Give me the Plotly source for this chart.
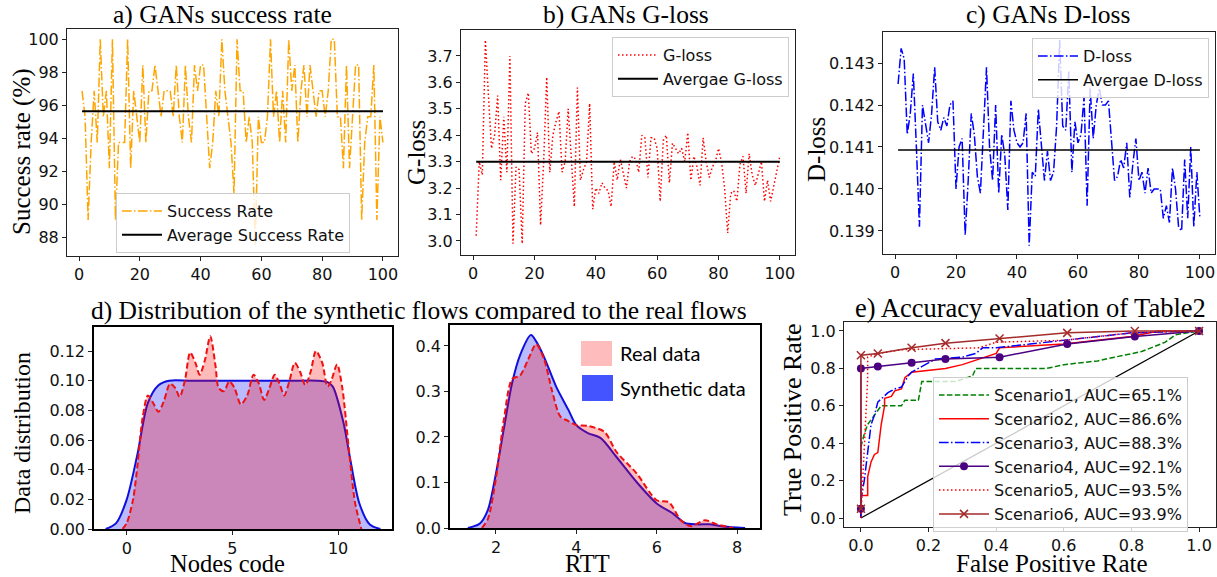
import plotly.graph_objects as go

W, H = 1217, 577
SERIF = "Liberation Serif"
SANS = "DejaVu Sans"

# ---------------- data ----------------
epochs = list(range(1, 101))

success_rate = [96.88, 95.31, 89.06, 93.75, 96.88, 93.75, 100.0, 95.31, 96.88, 92.19,
                100.0, 89.06, 93.75, 93.75, 93.75, 100.0, 92.19, 96.88, 95.31, 93.75,
                98.44, 93.75, 96.88, 96.88, 98.44, 96.88, 95.31, 96.88, 96.88, 96.88,
                95.31, 98.44, 95.31, 93.75, 98.44, 95.31, 93.75, 98.44, 96.88, 98.44,
                98.44, 95.31, 92.19, 93.75, 96.88, 95.31, 100.0, 96.88, 95.31, 93.75,
                90.63, 100.0, 96.88, 96.88, 93.75, 95.31, 93.75, 87.5, 95.31, 93.75,
                93.75, 95.31, 100.0, 95.31, 96.88, 93.75, 96.88, 93.75, 100.0, 96.88,
                98.44, 93.75, 96.88, 98.44, 95.31, 98.44, 96.88, 95.31, 96.88, 96.88,
                95.31, 96.88, 100.0, 100.0, 95.31, 95.31, 92.19, 98.44, 92.19, 95.31,
                98.44, 98.44, 89.06, 93.75, 95.31, 95.31, 98.44, 89.06, 95.31, 93.75]
success_avg = 95.65

g_loss = [3.02, 3.30, 3.25, 3.76, 3.55, 3.35, 3.40, 3.55, 3.23, 3.47,
          3.26, 3.70, 2.99, 3.28, 3.27, 2.99, 3.52, 3.56, 3.33, 3.35,
          3.41, 3.06, 3.30, 3.62, 3.26, 3.40, 3.45, 3.49, 3.26, 3.30,
          3.50, 3.30, 3.13, 3.58, 3.23, 3.27, 3.30, 3.52, 3.12, 3.20,
          3.18, 3.22, 3.20, 3.19, 3.13, 3.30, 3.23, 3.31, 3.25, 3.20,
          3.30, 3.32, 3.31, 3.26, 3.40, 3.39, 3.24, 3.39, 3.39, 3.35,
          3.15, 3.38, 3.40, 3.22, 3.37, 3.35, 3.33, 3.35, 3.30, 3.41,
          3.23, 3.32, 3.28, 3.21, 3.39, 3.30, 3.24, 3.28, 3.30, 3.35,
          3.30, 3.20, 3.03, 3.18, 3.19, 3.15, 3.29, 3.32, 3.18, 3.33,
          3.25, 3.21, 3.25, 3.30, 3.15, 3.23, 3.15, 3.21, 3.26, 3.32]
g_loss_avg = 3.30

d_loss = [0.14250, 0.14335, 0.14310, 0.14130, 0.14180, 0.14275, 0.14100, 0.13910, 0.14200, 0.14150,
          0.14110, 0.14180, 0.14290, 0.14160, 0.14140, 0.14170, 0.14150, 0.14200, 0.14210, 0.14000,
          0.14100, 0.14120, 0.13890, 0.14020, 0.14180, 0.14130, 0.14030, 0.13990, 0.14130, 0.14290,
          0.14100, 0.14020, 0.14200, 0.13990, 0.14130, 0.14080, 0.13950, 0.14210, 0.14140, 0.14110,
          0.14100, 0.14110, 0.14180, 0.13865, 0.14040, 0.14030, 0.14190, 0.14100, 0.14020, 0.14090,
          0.14020, 0.14040, 0.14150, 0.14355, 0.14150, 0.14140, 0.14280, 0.14040, 0.14160, 0.14110,
          0.14130, 0.14220, 0.13960, 0.14240, 0.14120, 0.14200, 0.14240, 0.14200, 0.14200, 0.14210,
          0.14120, 0.14020, 0.14030, 0.14070, 0.14050, 0.14110, 0.13980, 0.14060, 0.14120, 0.14020,
          0.14040, 0.13990, 0.14050, 0.13990, 0.14000, 0.14000, 0.14000, 0.13930, 0.13960, 0.13920,
          0.14050, 0.14000, 0.13910, 0.13900, 0.14070, 0.13930, 0.14100, 0.13910, 0.14040, 0.13930]
d_loss_avg = 0.14093

# d) nodes code densities
nodes_syn_x = [-1.0, -0.5, 0.0, 0.5, 1.0, 1.5, 2.0, 3.0, 4.0, 5.0, 6.0, 7.0, 8.0, 9.0,
               9.5, 9.75, 10.25, 10.55, 11.0, 11.5, 12.0]
nodes_syn_y = [0.0, 0.004, 0.02, 0.05, 0.085, 0.097, 0.1, 0.1, 0.1, 0.1, 0.1, 0.1, 0.1, 0.1,
               0.099, 0.096, 0.072, 0.049, 0.0175, 0.003, 0.0]
nodes_real_x = [-0.2, 0.0, 0.3, 0.5, 0.75, 1.0, 1.25, 1.5, 1.75, 2.05, 2.3, 2.5, 2.75, 3.0,
                3.25, 3.45, 3.7, 3.95, 4.2, 4.35, 4.6, 4.85, 5.1, 5.4, 5.7, 6.0, 6.25, 6.5,
                6.75, 7.0, 7.25, 7.45, 7.7, 7.95, 8.2, 8.45, 8.7, 8.95, 9.25, 9.5, 9.7, 9.95,
                10.2, 10.5, 10.8, 11.1]
nodes_real_y = [0.0, 0.004, 0.02, 0.042, 0.075, 0.090, 0.085, 0.079, 0.086, 0.098, 0.095,
                0.089, 0.100, 0.119, 0.112, 0.104, 0.114, 0.130, 0.110, 0.095, 0.093, 0.0995,
                0.095, 0.084, 0.090, 0.104, 0.098, 0.087, 0.095, 0.104, 0.097, 0.090, 0.100,
                0.112, 0.106, 0.097, 0.106, 0.120, 0.112, 0.096, 0.101, 0.111, 0.095, 0.055,
                0.018, 0.0]

# d) RTT densities
rtt_syn_x = [1.3, 1.6, 1.8, 2.0, 2.2, 2.4, 2.6, 2.87, 3.0, 3.2, 3.5, 3.8, 4.0, 4.3, 4.6,
             5.0, 5.5, 6.0, 6.4, 6.7, 7.0, 7.3, 7.6, 8.0, 8.2]
rtt_syn_y = [0.0, 0.01, 0.04, 0.12, 0.22, 0.318, 0.38, 0.424, 0.41, 0.375, 0.31, 0.26,
             0.226, 0.208, 0.198, 0.156, 0.101, 0.054, 0.032, 0.011, 0.008, 0.008, 0.004,
             0.001, 0.0]
rtt_real_x = [1.65, 1.8, 2.0, 2.2, 2.4, 2.6, 2.8, 3.0, 3.2, 3.4, 3.6, 3.8, 4.0, 4.3, 4.7,
              5.0, 5.5, 6.0, 6.3, 6.6, 6.85, 7.2, 7.5, 7.9]
rtt_real_y = [0.0, 0.02, 0.11, 0.24, 0.327, 0.335, 0.37, 0.404, 0.37, 0.30, 0.245, 0.235,
              0.226, 0.224, 0.211, 0.167, 0.12, 0.061, 0.057, 0.017, 0.004, 0.017, 0.008, 0.0]

# e) ROC curves
roc_names = ["Scenario1, AUC=65.1%", "Scenario2, AUC=86.6%", "Scenario3, AUC=88.3%",
             "Scenario4, AUC=92.1%", "Scenario5, AUC=93.5%", "Scenario6, AUC=93.9%"]
s1_fpr = [0.0, 0.0, 0.01, 0.02, 0.04, 0.06, 0.12, 0.13, 0.17, 0.18, 0.28, 0.33, 0.34, 0.55,
          0.60, 0.70, 0.75, 0.83, 0.90, 0.93, 1.0]
s1_tpr = [0.0, 0.38, 0.45, 0.50, 0.55, 0.60, 0.60, 0.63, 0.63, 0.73, 0.73, 0.76, 0.80, 0.80,
          0.82, 0.84, 0.86, 0.89, 0.94, 0.98, 1.0]
s2_fpr = [0.0, 0.0, 0.02, 0.02, 0.03, 0.04, 0.05, 0.06, 0.07, 0.07, 0.09, 0.10, 0.12, 0.13,
          0.15, 0.20, 0.25, 0.30, 0.35, 0.40, 0.41, 0.50, 0.60, 0.70, 0.80, 0.88, 1.0]
s2_tpr = [0.0, 0.12, 0.12, 0.22, 0.30, 0.34, 0.35, 0.50, 0.60, 0.64, 0.65, 0.68, 0.69, 0.75,
          0.78, 0.79, 0.80, 0.82, 0.85, 0.88, 0.91, 0.92, 0.93, 0.95, 0.97, 1.0, 1.0]
s3_fpr = [0.0, 0.0, 0.01, 0.02, 0.03, 0.04, 0.05, 0.08, 0.10, 0.12, 0.14, 0.15, 0.18, 0.22,
          0.30, 0.34, 0.36, 0.40, 0.50, 0.60, 0.70, 0.80, 1.0]
s3_tpr = [0.0, 0.10, 0.20, 0.35, 0.50, 0.55, 0.62, 0.67, 0.69, 0.70, 0.76, 0.78, 0.81, 0.85,
          0.86, 0.88, 0.91, 0.91, 0.93, 0.95, 0.97, 0.99, 1.0]
s4_fpr = [0.0, 0.0, 0.05, 0.15, 0.25, 0.41, 0.61, 0.81, 1.0]
s4_tpr = [0.05, 0.80, 0.81, 0.83, 0.85, 0.86, 0.93, 0.97, 1.0]
s5_fpr = [0.0, 0.01, 0.02, 0.02, 0.05, 0.12, 0.35, 0.40, 0.60, 0.80, 1.0]
s5_tpr = [0.0, 0.40, 0.75, 0.86, 0.88, 0.90, 0.91, 0.94, 0.95, 0.99, 1.0]
s6_fpr = [0.0, 0.0, 0.05, 0.15, 0.25, 0.41, 0.61, 0.81, 1.0]
s6_tpr = [0.05, 0.87, 0.88, 0.91, 0.935, 0.96, 0.99, 1.0, 1.0]
chance = [0.0, 1.0]

# ---------------- helpers ----------------
def dom_x(a, b):
    return [a / W, b / W]

def dom_y(top, bottom):
    return [1 - bottom / H, 1 - top / H]

def axis_style(**kw):
    d = dict(showline=True, mirror=True, linecolor="#222", linewidth=1,
             ticks="outside", ticklen=4, tickwidth=1, tickcolor="#222",
             showgrid=False, zeroline=False, automargin=False,
             tickfont=dict(family=SANS, size=16, color="#111"))
    d.update(kw)
    return d

fig = go.Figure()

DASHDOT = "9.6px,2.4px,1.5px,2.4px"
DOT = "1.5px,2.5px"

# a) success rate
fig.add_trace(go.Scatter(x=epochs, y=success_rate, mode="lines", name="Success Rate",
                         line=dict(color="#ffa500", width=1.5, dash=DASHDOT),
                         xaxis="x", yaxis="y", legend="legend"))
fig.add_trace(go.Scatter(x=[epochs[0], epochs[-1]], y=[success_avg, success_avg], mode="lines",
                         name="Average Success Rate", line=dict(color="black", width=2),
                         xaxis="x", yaxis="y", legend="legend"))
# b) G-loss
fig.add_trace(go.Scatter(x=epochs, y=g_loss, mode="lines", name="G-loss",
                         line=dict(color="red", width=1.5, dash=DOT),
                         xaxis="x2", yaxis="y2", legend="legend2"))
fig.add_trace(go.Scatter(x=[epochs[0], epochs[-1]], y=[g_loss_avg, g_loss_avg], mode="lines",
                         name="Avergae G-loss", line=dict(color="black", width=2),
                         xaxis="x2", yaxis="y2", legend="legend2"))
# c) D-loss
fig.add_trace(go.Scatter(x=epochs, y=d_loss, mode="lines", name="D-loss",
                         line=dict(color="blue", width=1.5, dash=DASHDOT),
                         xaxis="x3", yaxis="y3", legend="legend3"))
fig.add_trace(go.Scatter(x=[epochs[0], epochs[-1]], y=[d_loss_avg, d_loss_avg], mode="lines",
                         name="Avergae D-loss", line=dict(color="black", width=1.5),
                         xaxis="x3", yaxis="y3", legend="legend3"))

# d) densities
FA = 0.27
for xs, ys, xa, ya in [(nodes_syn_x, nodes_syn_y, "x4", "y4"), (rtt_syn_x, rtt_syn_y, "x5", "y5")]:
    fig.add_trace(go.Scatter(x=xs, y=ys, mode="lines", fill="tozeroy",
                             fillcolor=f"rgba(0,0,255,{FA})",
                             line=dict(color="#1010dd", width=2, shape="spline", smoothing=0.8),
                             xaxis=xa, yaxis=ya, showlegend=False))
for xs, ys, xa, ya in [(nodes_real_x, nodes_real_y, "x4", "y4"), (rtt_real_x, rtt_real_y, "x5", "y5")]:
    fig.add_trace(go.Scatter(x=xs, y=ys, mode="lines", fill="tozeroy",
                             fillcolor=f"rgba(255,0,0,{FA})",
                             line=dict(color="#ee1111", width=2, dash="6px,3px", shape="spline", smoothing=0.8),
                             xaxis=xa, yaxis=ya, showlegend=False))

# e) ROC
fig.add_trace(go.Scatter(x=chance, y=chance, mode="lines", line=dict(color="black", width=1.3),
                         xaxis="x6", yaxis="y6", showlegend=False))
roc = [
    (s1_fpr, s1_tpr, dict(color="green", width=1.5, dash="5.5px,2.4px"), None),
    (s2_fpr, s2_tpr, dict(color="red", width=1.5), None),
    (s3_fpr, s3_tpr, dict(color="blue", width=1.5, dash=DASHDOT), None),
    (s4_fpr, s4_tpr, dict(color="#4b0082", width=1.5), dict(symbol="circle", size=8, color="#4b0082")),
    (s5_fpr, s5_tpr, dict(color="red", width=1.5, dash=DOT), None),
    (s6_fpr, s6_tpr, dict(color="#a52a2a", width=1.5),
     dict(symbol="x-thin", size=8, color="#a52a2a", line=dict(width=1.5, color="#a52a2a"))),
]
for (xs, ys, ln, mk), nm in zip(roc, roc_names):
    fig.add_trace(go.Scatter(x=xs, y=ys, mode="lines+markers" if mk else "lines", name=nm,
                             line=ln, marker=mk, xaxis="x6", yaxis="y6", legend="legend4"))

# ---------------- layout ----------------
leg_common = dict(bgcolor="rgba(255,255,255,0.8)", bordercolor="#cccccc", borderwidth=1,
                  xanchor="left", yanchor="top", itemwidth=40, tracegroupgap=0,
                  font=dict(family=SANS, size=16, color="#111"))

layout = dict(
    width=W, height=H, margin=dict(l=0, r=0, t=0, b=0, pad=0, autoexpand=False),
    paper_bgcolor="white", plot_bgcolor="white",
    xaxis=axis_style(domain=dom_x(67, 398), range=[-3.95, 104.95], tickvals=[0, 20, 40, 60, 80, 100], anchor="y"),
    yaxis=axis_style(domain=dom_y(29, 256), range=[86.875, 100.625], tickvals=[88, 90, 92, 94, 96, 98, 100], anchor="x"),
    xaxis2=axis_style(domain=dom_x(461, 795), range=[-3.95, 104.95], tickvals=[0, 20, 40, 60, 80, 100], anchor="y2"),
    yaxis2=axis_style(domain=dom_y(30, 255), range=[2.947, 3.798], tickvals=[3.0, 3.1, 3.2, 3.3, 3.4, 3.5, 3.6, 3.7],
                      tickformat=".1f", anchor="x2"),
    xaxis3=axis_style(domain=dom_x(883, 1215), range=[-3.95, 104.95], tickvals=[0, 20, 40, 60, 80, 100], anchor="y3"),
    yaxis3=axis_style(domain=dom_y(32, 254), range=[0.13845, 0.14374], tickvals=[0.139, 0.140, 0.141, 0.142, 0.143],
                      tickformat=".3f", anchor="x3"),
    xaxis4=axis_style(domain=dom_x(94, 392), range=[-1.55, 12.55], tickvals=[0, 5, 10], anchor="y4",
                      linecolor="black", linewidth=1.5),
    yaxis4=axis_style(domain=dom_y(327, 529), range=[0, 0.1362], tickvals=[0, 0.02, 0.04, 0.06, 0.08, 0.10, 0.12],
                      tickformat=".2f", anchor="x4", linecolor="black", linewidth=1.5),
    xaxis5=axis_style(domain=dom_x(450, 760), range=[0.856, 8.57], tickvals=[2, 4, 6, 8], anchor="y5",
                      linecolor="black", linewidth=1.5),
    yaxis5=axis_style(domain=dom_y(325, 528), range=[0, 0.446], tickvals=[0, 0.1, 0.2, 0.3, 0.4],
                      tickformat=".1f", anchor="x5", linecolor="black", linewidth=1.5),
    xaxis6=axis_style(domain=dom_x(844, 1216), range=[-0.05, 1.05], tickvals=[0, 0.2, 0.4, 0.6, 0.8, 1.0],
                      tickformat=".1f", anchor="y6"),
    yaxis6=axis_style(domain=dom_y(322, 527), range=[-0.048, 1.048], tickvals=[0, 0.2, 0.4, 0.6, 0.8, 1.0],
                      tickformat=".1f", anchor="x6"),
    legend=dict(leg_common, x=116 / W, y=1 - 193 / H),
    legend2=dict(leg_common, x=612 / W, y=1 - 37 / H),
    legend3=dict(leg_common, x=1032 / W, y=1 - 38 / H),
    legend4=dict(leg_common, x=933 / W, y=1 - 377 / H, itemwidth=50,
                 font=dict(family=SANS, size=16, color="#111")),
)
fig.update_layout(**layout)

def ann(text, x, y, size, angle=0, family=SERIF):
    fig.add_annotation(text=text, x=x / W, y=1 - y / H, xref="paper", yref="paper",
                       showarrow=False, textangle=angle, xanchor="center", yanchor="middle",
                       font=dict(family=family, size=size, color="black"))

# titles
ann("a) GANs success rate", 222, 14, 25.5)
ann("b) GANs G-loss", 626, 14, 25.5)
ann("c) GANs D-loss", 1048, 14, 25.5)
ann("d) Distribution of the synthetic flows compared to the real flows", 419, 310, 25.5)
ann("e) Accuracy evaluation of Table2", 1030, 308, 26.5)
# axis titles
ann("Success rate (%)", 22, 152, 25, -90)
ann("G-loss", 416, 153, 25, -90)
ann("D-loss", 816, 150, 25, -90)
ann("Data distribution", 22, 433, 24, -90)
ann("Nodes code", 227, 563, 24.5)
ann("RTT", 587, 563, 24.5)
ann("False Positive Rate", 1052, 563, 25)
ann("True Positive Rate", 792, 420, 26, -90)

# custom legend in the RTT panel
fig.add_shape(type="rect", xref="paper", yref="paper", x0=581 / W, x1=612 / W,
              y0=1 - 366 / H, y1=1 - 341 / H, fillcolor="#ffbcbc", line=dict(width=0))
fig.add_shape(type="rect", xref="paper", yref="paper", x0=582 / W, x1=613 / W,
              y0=1 - 401 / H, y1=1 - 375 / H, fillcolor="#4455ff", line=dict(width=0))
for txt, yy in [("Real data", 353), ("Synthetic data", 388)]:
    fig.add_annotation(text=txt, x=618 / W, y=1 - yy / H, xref="paper", yref="paper",
                       showarrow=False, xanchor="left", yanchor="middle",
                       font=dict(family="Lato", size=20, color="black"))

css_fix = (
    "var s=document.documentElement.style;s.margin='0';s.padding='0';s.overflow='hidden';"
    "var b=document.body.style;b.margin='0';b.padding='0';b.overflow='hidden';"
)
fig.write_html("out.html", config={"displayModeBar": False}, post_script=css_fix)
